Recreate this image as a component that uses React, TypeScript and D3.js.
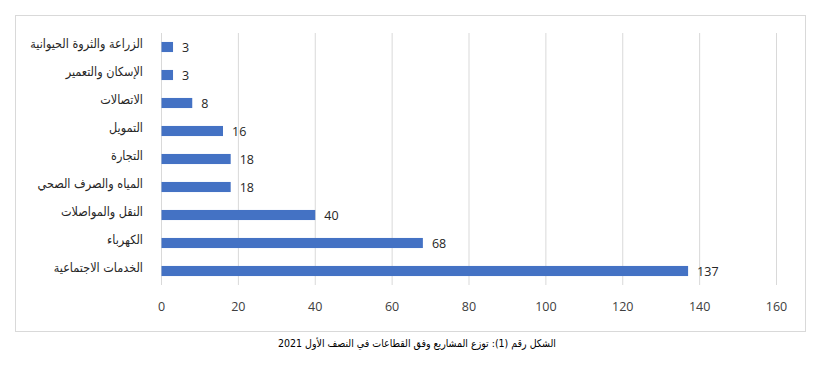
import React from 'react';
import * as d3 from 'd3';

const categories = [
  'الزراعة والثروة الحيوانية',
  'الإسكان والتعمير',
  'الاتصالات',
  'التمويل',
  'التجارة',
  'المياه والصرف الصحي',
  'النقل والمواصلات',
  'الكهرباء',
  'الخدمات الاجتماعية',
];
const values = [3, 3, 8, 16, 18, 18, 40, 68, 137];
const ticks = [0, 20, 40, 60, 80, 100, 120, 140, 160];
const caption = 'الشكل رقم (1): توزع المشاريع وفق القطاعات في النصف الأول 2021';

export default function App() {
  const width = 827;
  const height = 372;
  const x = d3.scaleLinear().domain([0, 160]).range([161.5, 776.5]);
  const y = d3.scaleBand<string>().domain(categories).range([33, 285]).paddingInner(0.64).paddingOuter(0.32);

  return (
    <svg width={width} height={height} style={{ position: 'absolute', left: 0, top: 0 }}>
      <rect x={0} y={0} width={width} height={height} fill="#fff" />
      <rect x={15.5} y={15.5} width={790} height={316} fill="#fff" stroke="#d9d9d9" />
      {ticks.map((t) => (
        <g key={t}>
          <line x1={x(t)} x2={x(t)} y1={33} y2={285} stroke="#d9d9d9" strokeWidth={1} />
          <text x={x(t)} y={311} textAnchor="middle" fontSize={12.5} fill="#404040" fontFamily="Open Sans, sans-serif">
            {t}
          </text>
        </g>
      ))}
      {categories.map((c, i) => (
        <g key={c}>
          <rect x={x(0)} y={y(c)} width={x(values[i]) - x(0)} height={y.bandwidth()} fill="#4472C4" />
          <text x={x(values[i]) + 9} y={(y(c) as number) + y.bandwidth() / 2 + 4.5} fontSize={12.5} fill="#262626" fontFamily="Open Sans, sans-serif">
            {values[i]}
          </text>
          <text x={143} y={(y(c) as number) + y.bandwidth() / 2 + 1} textAnchor="start" direction="rtl" fontSize={12.5} fill="#262626" fontFamily="DejaVu Sans Condensed, DejaVu Sans, sans-serif">
            {c}
          </text>
        </g>
      ))}
      <text x={417} y={347} textAnchor="middle" direction="rtl" fontSize={10.5} fill="#000" fontFamily="DejaVu Sans Condensed, DejaVu Sans, sans-serif">
        {caption}
      </text>
    </svg>
  );
}
